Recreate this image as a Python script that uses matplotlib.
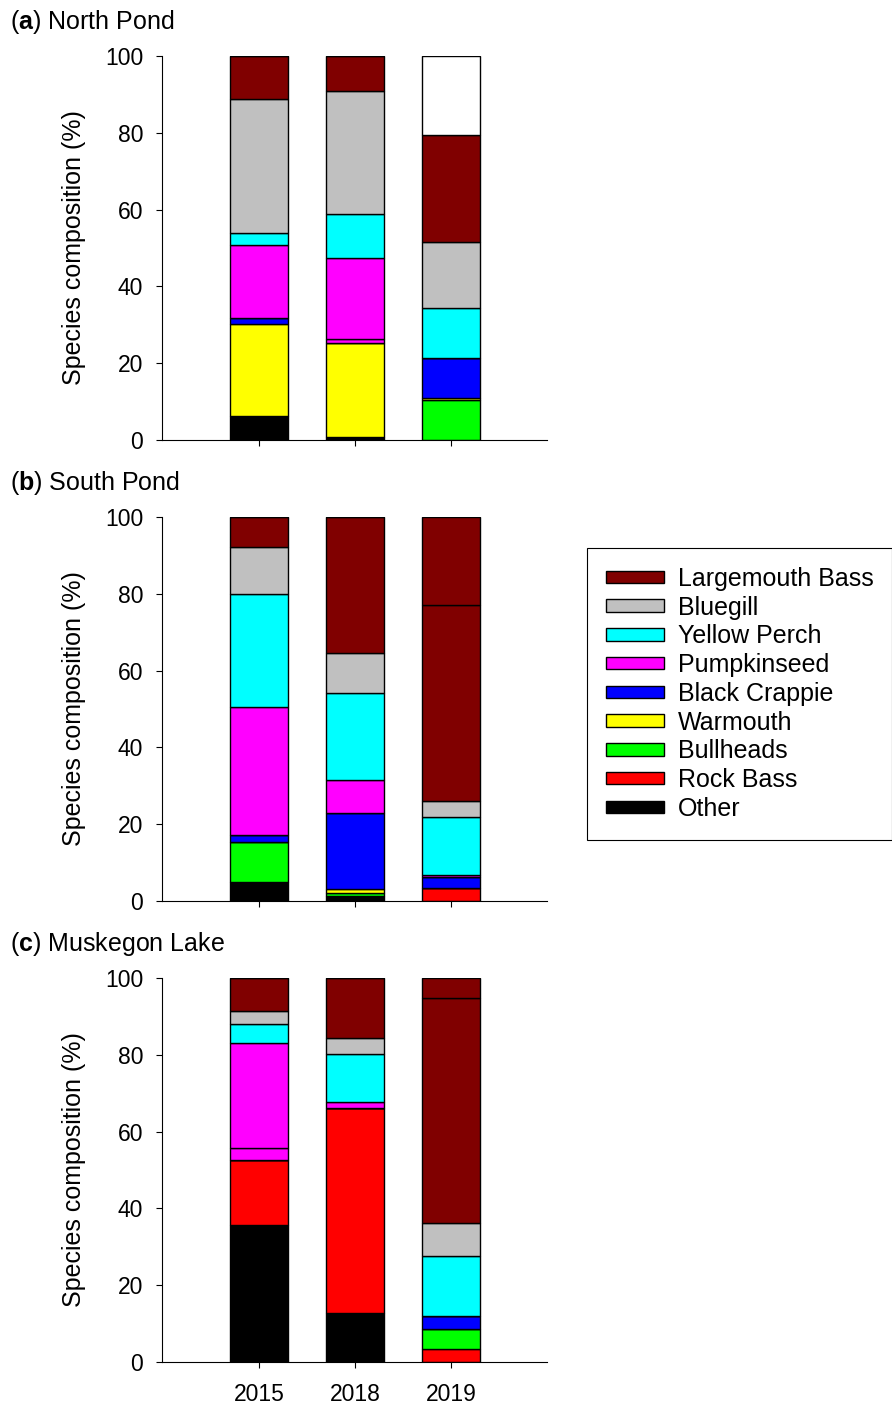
import numpy as np
import matplotlib
matplotlib.use('Agg')
import matplotlib.pyplot as plt
from matplotlib.patches import Patch

plt.rcParams['font.family'] = ['Liberation Sans', 'DejaVu Sans']
plt.rcParams['mathtext.fontset'] = 'custom'
plt.rcParams['mathtext.rm'] = 'Liberation Sans'
plt.rcParams['mathtext.bf'] = 'Liberation Sans:bold'

years = ['2015', '2018', '2019']
ponds = ['North Pond', 'South Pond', 'Muskegon Lake']
letters = ['a', 'b', 'c']

# % composition, one row per pond, columns = years
other      = [[6.3, 0.7, 0.0], [5.0, 1.4, 0.0], [35.7, 12.7, 0.0]]
rock_bass  = [[0.0, 0.0, 0.0], [0.0, 0.0, 3.3], [16.8, 53.4, 3.4]]
bullheads  = [[0.0, 0.0, 10.4], [10.3, 0.6, 0.0], [0.0, 0.0, 5.1]]
warmouth   = [[23.8, 24.5, 0.6], [0.0, 1.1, 0.0], [0.0, 0.0, 0.0]]
crappie    = [[1.6, 0.0, 10.4], [1.9, 19.7, 3.0], [0.0, 0.0, 3.5]]
pumpkin_b  = [[0.0, 1.0, 0.0], [0.0, 0.0, 0.0], [3.3, 0.0, 0.0]]
pumpkin    = [[19.1, 21.1, 0.0], [33.4, 8.6, 0.4], [27.2, 1.5, 0.0]]
perch      = [[3.2, 11.6, 13.1], [29.4, 22.8, 15.2], [5.0, 12.5, 15.6]]
bluegill   = [[34.8, 31.9, 17.0], [12.2, 10.5, 4.2], [3.5, 4.3, 8.5]]
largemouth = [[11.2, 9.2, 27.8], [7.8, 35.3, 50.9], [8.5, 15.6, 58.6]]
top_part   = [[0.0, 0.0, 20.7], [0.0, 0.0, 23.0], [0.0, 0.0, 5.3]]
top_colors = [['white', 'white', 'white'], ['#800000'] * 3, ['#800000'] * 3]

stack = [
    (other, 'black'), (rock_bass, '#FF0000'), (bullheads, '#00FF00'),
    (warmouth, '#FFFF00'), (crappie, '#0000FF'), (pumpkin_b, '#FF00FF'),
    (pumpkin, '#FF00FF'), (perch, '#00FFFF'), (bluegill, '#C0C0C0'),
    (largemouth, '#800000'),
]

legend_names = ['Largemouth Bass', 'Bluegill', 'Yellow Perch', 'Pumpkinseed',
                'Black Crappie', 'Warmouth', 'Bullheads', 'Rock Bass', 'Other']
legend_colors = ['#800000', '#C0C0C0', '#00FFFF', '#FF00FF', '#0000FF',
                 '#FFFF00', '#00FF00', '#FF0000', 'black']

fs = 16.5   # tick labels
fs2 = 18    # other text
fig = plt.figure(figsize=(8.92, 14.08), dpi=100)
x = np.arange(3)
tops_px = [56, 517, 978]

for i in range(3):
    t = tops_px[i]
    ax = fig.add_axes([162 / 892, 1 - (t + 384) / 1408, 385 / 892, 384 / 1408])
    bottom = np.zeros(3)
    for vals, col in stack:
        v = np.array(vals[i])
        ax.bar(x, v, 0.6, bottom=bottom, color=col, edgecolor='black', linewidth=1)
        bottom += v
    ax.bar(x, top_part[i], 0.6, bottom=bottom, color=top_colors[i],
           edgecolor='black', linewidth=1)
    ax.set_xlim(-1.01, 3.0)
    ax.set_ylim(0, 100)
    ax.set_yticks(range(0, 101, 20))
    ax.set_xticks(x)
    if i == 2:
        ax.set_xticklabels(years)
    else:
        ax.set_xticklabels([])
    ax.spines['top'].set_visible(False)
    ax.spines['right'].set_visible(False)
    ax.tick_params(labelsize=fs, length=4, direction='out')
    ax.tick_params(axis='y', pad=9.5)
    ax.tick_params(axis='x', pad=11)
    ax.set_ylabel('Species composition (%)', fontsize=fs2, labelpad=14)
    fig.text(10 / 892, 1 - (t - 34) / 1408,
             r'($\mathbf{' + letters[i] + r'}$) ' + ponds[i],
             fontsize=fs2, va='center', ha='left')

handles = [Patch(facecolor=c, edgecolor='black', linewidth=1) for c in legend_colors]
leg = fig.legend(handles, legend_names, loc='upper left',
                 bbox_to_anchor=(587 / 892, 1 - 548 / 1408), fontsize=fs2,
                 frameon=True, fancybox=False, edgecolor='black', framealpha=1,
                 handlelength=2.32, handleheight=0.4, labelspacing=0.19,
                 borderpad=0.75, handletextpad=0.56, borderaxespad=0)
leg.get_frame().set_linewidth(0.8)

fig.savefig('out.png', dpi=100)
